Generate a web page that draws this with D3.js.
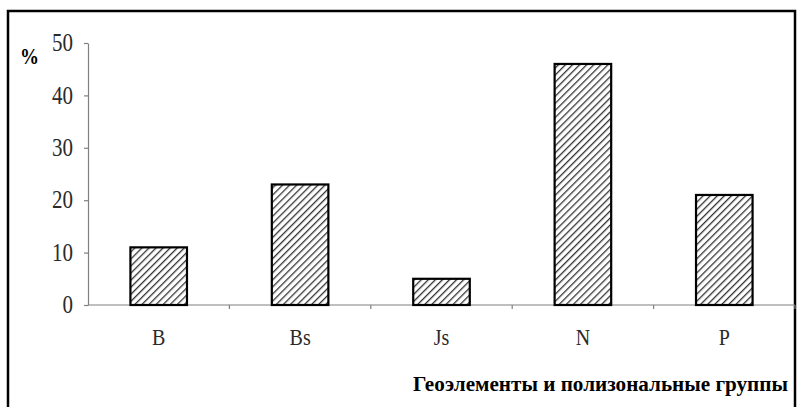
<!DOCTYPE html>
<html lang="ru">
<head>
<meta charset="UTF-8">
<title>Геоэлементы</title>
<script src="https://d3js.org/d3.v7.min.js"></script>
<style>
  body { margin: 0; background: #fff; }
  .axis path, .axis line { stroke: #808080; stroke-width: 1.2px; }
  .axis text { fill: #2a2a2a; }
</style>
</head>
<body>
<svg width="797" height="407"></svg>
<script>
const categories = ["B", "Bs", "Js", "N", "P"];
const values = [11, 23, 5, 46, 21];
const yTicks = [0, 10, 20, 30, 40, 50];

const svg = d3.select("svg");

// hatching for bars
const pat = svg.append("defs").append("pattern")
  .attr("id", "hatch")
  .attr("patternUnits", "userSpaceOnUse")
  .attr("width", 5).attr("height", 5)
  .attr("patternTransform", "rotate(45)");
pat.append("rect").attr("width", 5).attr("height", 5).attr("fill", "#fff");
pat.append("line")
  .attr("x1", 0).attr("y1", 0).attr("x2", 0).attr("y2", 5)
  .attr("stroke", "#333").attr("stroke-width", 2.6);

// outer frame
svg.append("rect")
  .attr("x", 8).attr("y", 11).attr("width", 787).attr("height", 400)
  .attr("fill", "none").attr("stroke", "#000").attr("stroke-width", 2.5);

const x = d3.scaleBand().domain(categories).range([88, 795])
  .paddingInner(0.6).paddingOuter(0.3);
const y = d3.scaleLinear().domain([0, 50]).range([305, 43]);

// y axis
const ya = svg.append("g").attr("class", "axis")
  .attr("transform", "translate(88,0)")
  .call(d3.axisLeft(y).tickValues(yTicks).tickSize(4).tickSizeOuter(0).tickPadding(11));
ya.selectAll("text")
  .attr("font-size", 21)
  .attr("transform", "scale(1,1.15)");

// x axis: line with tick marks at band boundaries
const xa = svg.append("g").attr("class", "axis");
xa.append("line")
  .attr("x1", 88).attr("x2", 795).attr("y1", y(0)).attr("y2", y(0));
const step = x.step();
xa.selectAll(".tk").data(d3.range(1, categories.length + 1))
  .enter().append("line")
  .attr("x1", i => 88 + i * step).attr("x2", i => 88 + i * step)
  .attr("y1", y(0)).attr("y2", y(0) + 4);
xa.selectAll(".lbl").data(categories)
  .enter().append("text")
  .attr("transform", d => `translate(${x(d) + x.bandwidth() / 2},345) scale(1,1.12)`)
  .attr("text-anchor", "middle")
  .attr("font-size", 20)
  .text(d => d);

// bars
svg.selectAll(".bar").data(values)
  .enter().append("rect")
  .attr("x", (d, i) => x(categories[i]))
  .attr("y", d => y(d))
  .attr("width", x.bandwidth())
  .attr("height", d => y(0) - y(d))
  .attr("fill", "url(#hatch)")
  .attr("stroke", "#000").attr("stroke-width", 2.2);

svg.append("text")
  .attr("transform", "translate(20,64) scale(1,1.2)")
  .attr("font-size", 19).attr("font-weight", "bold")
  .text("%");

svg.append("text")
  .attr("x", 413).attr("y", 391)
  .attr("font-size", 20).attr("font-weight", "bold")
  .attr("textLength", 375).attr("lengthAdjust", "spacingAndGlyphs")
  .text("Геоэлементы и полизональные группы");

svg.selectAll("text").style("font-family", '"Liberation Serif"');
</script>
</body>
</html>
